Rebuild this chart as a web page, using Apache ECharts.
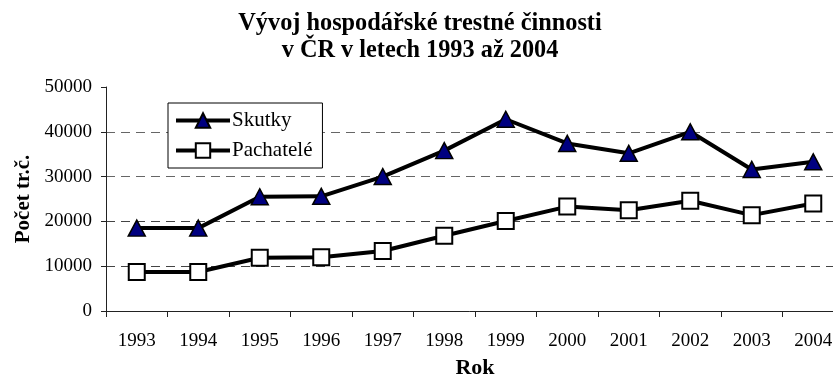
<!DOCTYPE html>
<html>
<head>
<meta charset="utf-8">
<script src="https://cdn.jsdelivr.net/npm/echarts@6/dist/echarts.min.js"></script>
<style>
  html, body { margin: 0; padding: 0; background: #fff; }
  #chart { width: 833px; height: 378px; }
</style>
</head>
<body>
<div id="chart"></div>
<script>
// Economic crime in the Czech Republic, 1993–2004
var years = ['1993', '1994', '1995', '1996', '1997', '1998', '1999', '2000', '2001', '2002', '2003', '2004'];
var skutky = [18500, 18500, 25500, 25600, 30000, 35800, 42800, 37400, 35200, 40000, 31600, 33300];
var pachatele = [8700, 8700, 11900, 12000, 13400, 16800, 20100, 23300, 22500, 24600, 21400, 24000];
var yTicks = [0, 10000, 20000, 30000, 40000, 50000];

var serif = '"Liberation Serif", "DejaVu Serif", serif';
var chart = echarts.init(document.getElementById('chart'), null, { renderer: 'canvas' });

chart.setOption({
  backgroundColor: '#fff',
  animation: false,
  title: {
    text: 'Vývoj hospodářské trestné činnosti\nv ČR v letech 1993 až 2004',
    left: 415,
    textAlign: 'center',
    top: 5,
    textStyle: {
      fontFamily: serif,
      fontSize: 24.3,
      fontWeight: 'bold',
      color: '#000',
      lineHeight: 27
    }
  },
  legend: {
    orient: 'vertical',
    left: 168,
    top: 103,
    padding: [7, 10, 7, 6],
    itemGap: 9,
    itemWidth: 54,
    itemHeight: 18,
    borderColor: '#000',
    borderWidth: 1,
    backgroundColor: '#fff',
    lineStyle: { width: 4, color: '#000' },
    textStyle: { fontFamily: serif, fontSize: 21, color: '#000', padding: [0, 0, 0, -3] },
    data: ['Skutky', 'Pachatelé']
  },
  grid: { left: 106, top: 87, width: 738, height: 224, outerBoundsMode: 'none', containLabel: false },
  xAxis: {
    type: 'category',
    data: years,
    boundaryGap: true,
    name: 'Rok',
    nameLocation: 'middle',
    nameGap: 46,
    nameTextStyle: { fontFamily: serif, fontSize: 22, fontWeight: 'bold', color: '#000' },
    axisLine: { lineStyle: { color: '#222', width: 1 } },
    axisTick: { show: true, length: 6, lineStyle: { color: '#222' } },
    axisLabel: { fontFamily: serif, fontSize: 19, color: '#000', margin: 21 },
    splitLine: { show: false }
  },
  yAxis: {
    type: 'value',
    min: yTicks[0],
    max: yTicks[yTicks.length - 1],
    interval: 10000,
    name: 'Počet tr.č.',
    nameLocation: 'middle',
    nameGap: 72,
    nameTextStyle: { fontFamily: serif, fontSize: 21, fontWeight: 'bold', color: '#000' },
    axisLine: { show: true, lineStyle: { color: '#222', width: 1 } },
    axisTick: { show: true, length: 5, lineStyle: { color: '#222' } },
    axisLabel: {
      fontFamily: serif,
      fontSize: 19,
      color: '#000',
      margin: 14,
      formatter: function (v) { return String(v); }
    },
    splitLine: {
      show: true,
      lineStyle: {
        color: ['rgba(0,0,0,0)', '#444', '#444', '#666', '#666', 'rgba(0,0,0,0)'],
        type: [9, 6],
        width: 1
      }
    }
  },
  series: [
    {
      name: 'Skutky',
      type: 'line',
      data: skutky,
      symbol: 'triangle',
      symbolSize: [17, 16],
      lineStyle: { color: '#000', width: 4 },
      itemStyle: { color: '#000080', borderColor: '#000', borderWidth: 1.5 },
      z: 3
    },
    {
      name: 'Pachatelé',
      type: 'line',
      data: pachatele,
      symbol: 'rect',
      symbolSize: 16,
      lineStyle: { color: '#000', width: 4 },
      itemStyle: { color: '#fff', borderColor: '#000', borderWidth: 2 },
      z: 3
    }
  ]
});
</script>
</body>
</html>
